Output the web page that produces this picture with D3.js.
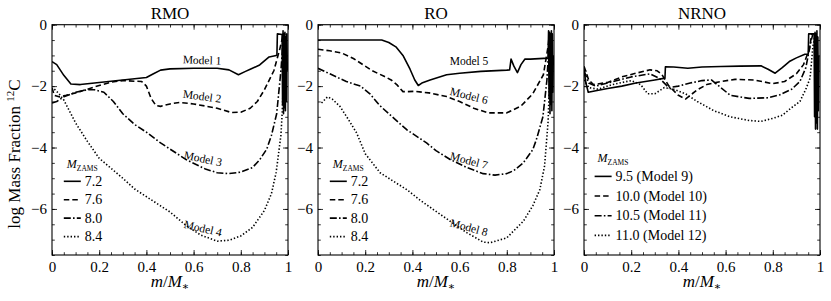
<!DOCTYPE html>
<html>
<head>
<meta charset="utf-8">
<script src="https://cdn.jsdelivr.net/npm/d3@7"></script>
<style>
  html, body { margin: 0; padding: 0; background: #fff; }
</style>
</head>
<body>
<svg id="chart" width="831" height="301" font-family="Liberation Serif, DejaVu Serif, serif"></svg>
<script>
// ---------------- DATA ----------------
const panelTitles = ["RMO", "RO", "NRNO"];
const xTickValues = [0, 0.2, 0.4, 0.6, 0.8, 1];
const yTickValues = [0, -2, -4, -6];
const xDomain = [0, 1];
const yDomain = [-7.5, 0];

const legendTitles = ["M", "M", "M"];
const legendLabelsRMO = ["7.2", "7.6", "8.0", "8.4"];
const legendLabelsRO = ["7.2", "7.6", "8.0", "8.4"];
const legendLabelsNRNO = ["9.5 (Model 9)", "10.0 (Model 10)", "10.5 (Model 11)", "11.0 (Model 12)"];
const modelLabelsRMO = ["Model 1", "Model 2", "Model 3", "Model 4"];
const modelLabelsRO = ["Model 5", "Model 6", "Model 7", "Model 8"];

// RMO panel
const model1 = [[0,-1.2],[0.02,-1.3],[0.05,-1.65],[0.08,-1.93],[0.12,-1.95],[0.2,-1.88],[0.3,-1.8],[0.35,-1.76],[0.4,-1.72],[0.43,-1.6],[0.46,-1.48],[0.5,-1.44],[0.6,-1.42],[0.7,-1.42],[0.75,-1.47],[0.79,-1.63],[0.82,-1.52],[0.84,-1.45],[0.88,-1.31],[0.92,-1.05],[0.95,-1.0],[0.953,-1.0],[0.955,-0.3],[0.975,-0.32],[0.977,-2.6],[0.979,-0.2],[0.981,-2.9],[0.983,-0.3],[0.985,-2.7],[0.987,-0.25],[0.989,-2.8],[0.991,-0.4],[0.993,-2.5],[0.995,-0.3],[0.997,-1.5]];
const model2 = [[0,-2.05],[0.01,-2.3],[0.03,-2.35],[0.06,-2.3],[0.1,-2.22],[0.15,-2.1],[0.2,-1.98],[0.25,-1.87],[0.3,-1.82],[0.35,-1.84],[0.38,-1.85],[0.4,-2.0],[0.42,-2.4],[0.44,-2.63],[0.46,-2.66],[0.5,-2.58],[0.54,-2.53],[0.6,-2.58],[0.7,-2.72],[0.76,-2.86],[0.8,-2.85],[0.84,-2.72],[0.87,-2.5],[0.9,-2.12],[0.94,-1.5],[0.966,-0.77],[0.98,-0.3]];
const model3 = [[0,-2.55],[0.02,-2.5],[0.05,-2.35],[0.1,-2.2],[0.15,-2.12],[0.18,-2.12],[0.22,-2.2],[0.26,-2.5],[0.3,-2.9],[0.35,-3.25],[0.4,-3.5],[0.46,-3.85],[0.5,-4.05],[0.57,-4.4],[0.65,-4.7],[0.7,-4.82],[0.75,-4.85],[0.8,-4.8],[0.85,-4.65],[0.88,-4.4],[0.91,-4.05],[0.93,-3.6],[0.952,-2.9],[0.97,-1.5],[0.98,-0.4]];
const model4 = [[0.01,-2.1],[0.03,-2.25],[0.05,-2.45],[0.08,-2.9],[0.1,-3.2],[0.15,-3.8],[0.2,-4.35],[0.3,-5.0],[0.35,-5.35],[0.4,-5.6],[0.46,-5.9],[0.5,-6.1],[0.57,-6.55],[0.63,-6.85],[0.7,-7.05],[0.75,-7.02],[0.8,-6.88],[0.85,-6.6],[0.9,-6.05],[0.93,-5.5],[0.95,-4.8],[0.97,-3.6],[0.975,-2.93],[0.985,-1.0],[0.99,-0.3]];

// RO panel
const model5 = [[0,-0.5],[0.1,-0.5],[0.2,-0.5],[0.27,-0.5],[0.3,-0.58],[0.33,-0.72],[0.36,-1.0],[0.39,-1.45],[0.41,-1.8],[0.425,-1.98],[0.44,-1.9],[0.475,-1.8],[0.545,-1.63],[0.6,-1.58],[0.69,-1.52],[0.8,-1.48],[0.812,-1.47],[0.818,-1.12],[0.83,-1.35],[0.845,-1.56],[0.86,-1.3],[0.877,-1.12],[0.9,-1.12],[0.975,-1.09],[0.977,-0.2],[0.979,-2.4],[0.981,-0.25],[0.983,-2.9],[0.985,-0.3],[0.987,-2.6],[0.989,-0.2],[0.991,-2.8],[0.993,-0.3],[0.995,-2.2],[0.997,-1.0]];
const model6 = [[0,-0.8],[0.05,-0.85],[0.1,-0.92],[0.15,-1.1],[0.19,-1.3],[0.23,-1.5],[0.28,-1.68],[0.31,-1.8],[0.335,-1.96],[0.36,-2.18],[0.38,-2.18],[0.41,-2.17],[0.47,-2.22],[0.545,-2.34],[0.6,-2.5],[0.66,-2.72],[0.72,-2.87],[0.8,-2.87],[0.86,-2.65],[0.91,-2.25],[0.955,-1.63],[0.976,-0.66],[0.98,-0.3]];
const model7 = [[0,-1.42],[0.05,-1.6],[0.12,-1.85],[0.18,-2.0],[0.22,-2.25],[0.26,-2.62],[0.3,-2.9],[0.376,-3.42],[0.46,-3.85],[0.5,-4.1],[0.56,-4.39],[0.63,-4.65],[0.7,-4.85],[0.75,-4.9],[0.8,-4.85],[0.83,-4.75],[0.87,-4.5],[0.91,-4.07],[0.925,-3.75],[0.953,-3.0],[0.97,-1.8],[0.98,-0.5]];
const model8 = [[0.015,-2.55],[0.04,-2.35],[0.06,-2.42],[0.093,-2.66],[0.13,-3.1],[0.164,-3.53],[0.2,-4.2],[0.263,-4.82],[0.32,-5.1],[0.376,-5.37],[0.43,-5.7],[0.489,-6.02],[0.56,-6.4],[0.63,-6.77],[0.7,-7.08],[0.73,-7.1],[0.8,-6.94],[0.87,-6.4],[0.91,-5.9],[0.94,-5.37],[0.96,-4.6],[0.975,-3.15],[0.985,-1.0],[0.99,-0.3]];

// NRNO panel
const model9 = [[0,-1.45],[0.008,-1.9],[0.018,-2.2],[0.05,-2.15],[0.1,-2.08],[0.16,-2.0],[0.22,-1.9],[0.3,-1.8],[0.343,-1.74],[0.345,-1.37],[0.38,-1.38],[0.44,-1.42],[0.5,-1.38],[0.58,-1.36],[0.66,-1.35],[0.75,-1.34],[0.78,-1.45],[0.81,-1.58],[0.84,-1.4],[0.87,-1.2],[0.9,-1.08],[0.936,-0.96],[0.95,-0.96],[0.952,-0.3],[0.975,-0.3],[0.977,-3.0],[0.979,-0.25],[0.981,-3.4],[0.983,-0.3],[0.985,-3.2],[0.987,-0.2],[0.989,-3.4],[0.991,-0.4],[0.993,-2.8],[0.995,-1.0]];
const model10 = [[0,-1.35],[0.02,-1.8],[0.04,-1.95],[0.1,-1.88],[0.16,-1.7],[0.22,-1.58],[0.28,-1.47],[0.31,-1.5],[0.33,-1.62],[0.36,-2.0],[0.4,-2.3],[0.43,-2.42],[0.45,-2.3],[0.48,-2.12],[0.52,-1.95],[0.58,-1.85],[0.64,-1.78],[0.72,-1.8],[0.8,-1.92],[0.85,-1.85],[0.9,-1.6],[0.93,-1.3],[0.955,-0.8],[0.965,-0.3]];
const model11 = [[0,-1.5],[0.02,-1.9],[0.05,-2.0],[0.1,-1.9],[0.2,-1.7],[0.28,-1.6],[0.32,-1.75],[0.36,-2.05],[0.4,-2.0],[0.45,-1.9],[0.5,-1.82],[0.54,-1.8],[0.58,-2.05],[0.62,-2.3],[0.7,-2.4],[0.78,-2.38],[0.83,-2.28],[0.88,-2.1],[0.915,-1.85],[0.94,-1.4],[0.96,-0.6],[0.97,-0.3]];
const model12 = [[0,-1.8],[0.02,-2.05],[0.06,-2.1],[0.12,-1.95],[0.2,-1.82],[0.24,-1.95],[0.27,-2.25],[0.3,-2.25],[0.34,-2.05],[0.38,-2.1],[0.43,-2.25],[0.48,-2.5],[0.55,-2.8],[0.62,-3.0],[0.7,-3.12],[0.75,-3.15],[0.8,-3.05],[0.84,-2.95],[0.88,-2.7],[0.915,-2.5],[0.94,-2.1],[0.958,-1.74],[0.97,-0.7],[0.98,-0.3]];

// -------------- CONFIG --------------
const FONT = "Liberation Serif, DejaVu Serif, serif";
const styles = [
  { dash: null },
  { dash: "5.5,3" },
  { dash: "7,2.2,1.6,2.2" },
  { dash: "1.4,2" }
];
const panelLeft = [52, 318, 584];
const panelWidth = 236;
const plotTop = 24.7, plotBottom = 255;

const panels = [
  { title: panelTitles[0], series: [model1, model2, model3, model4], legend: legendLabelsRMO,
    labels: modelLabelsRMO, labelPos: [[0.636,-1.15,2],[0.636,-2.33,8],[0.64,-4.36,12],[0.64,-6.63,13]],
    legendAt: [0.05, -4.5], legendStep: 0.6 },
  { title: panelTitles[1], series: [model5, model6, model7, model8], legend: legendLabelsRO,
    labels: modelLabelsRO, labelPos: [[0.64,-1.18,0],[0.64,-2.31,14],[0.64,-4.42,15],[0.64,-6.6,15]],
    legendAt: [0.05, -4.5], legendStep: 0.6 },
  { title: panelTitles[2], series: [model9, model10, model11, model12], legend: legendLabelsNRNO,
    labels: [], labelPos: [],
    legendAt: [0.045, -4.3], legendStep: 0.64 }
];

const svg = d3.select("#chart");
svg.append("rect").attr("width", 831).attr("height", 301).attr("fill", "#fff");

const y = d3.scaleLinear().domain(yDomain).range([plotBottom, plotTop]);
const fmt = d3.format("~g");
const xMinor = d3.range(0, 1.0001, 0.05);
const yMinor = d3.range(-7.5, 0.0001, 0.5);

function txt(sel) { return sel.attr("font-family", FONT).attr("fill", "#000"); }

panels.forEach((p, i) => {
  const x = d3.scaleLinear().domain(xDomain).range([panelLeft[i], panelLeft[i] + panelWidth]);
  const g = svg.append("g");

  const clipId = "clip" + i;
  svg.append("clipPath").attr("id", clipId).append("rect")
    .attr("x", x(0)).attr("y", plotTop).attr("width", panelWidth).attr("height", plotBottom - plotTop);

  g.append("g").attr("transform", `translate(0,${plotBottom})`)
    .call(d3.axisBottom(x).tickValues(xTickValues).tickSize(-5).tickPadding(6).tickFormat(fmt));
  g.append("g").attr("transform", `translate(0,${plotBottom})`)
    .call(d3.axisBottom(x).tickValues(xMinor).tickSize(-2.8).tickFormat(""));
  g.append("g").attr("transform", `translate(0,${plotTop})`)
    .call(d3.axisTop(x).tickValues(xTickValues).tickSize(-5).tickFormat(""));
  g.append("g").attr("transform", `translate(0,${plotTop})`)
    .call(d3.axisTop(x).tickValues(xMinor).tickSize(-2.8).tickFormat(""));
  g.append("g").attr("transform", `translate(${x(0)},0)`)
    .call(d3.axisLeft(y).tickValues(yTickValues).tickSize(-5).tickPadding(5).tickFormat(fmt));
  g.append("g").attr("transform", `translate(${x(0)},0)`)
    .call(d3.axisLeft(y).tickValues(yMinor).tickSize(-2.8).tickFormat(""));
  g.append("g").attr("transform", `translate(${x(1)},0)`)
    .call(d3.axisRight(y).tickValues(yTickValues).tickSize(-5).tickFormat(""));
  g.append("g").attr("transform", `translate(${x(1)},0)`)
    .call(d3.axisRight(y).tickValues(yMinor).tickSize(-2.8).tickFormat(""));

  g.selectAll(".domain").remove();
  g.selectAll("g").attr("font-family", FONT).attr("font-size", 15);
  g.selectAll(".tick line").attr("stroke", "#000").attr("stroke-width", 0.8);
  g.selectAll(".tick text").attr("fill", "#000");

  g.append("rect").attr("x", x(0)).attr("y", plotTop).attr("width", panelWidth).attr("height", plotBottom - plotTop)
    .attr("fill", "none").attr("stroke", "#000").attr("stroke-width", 1.1);

  const line = d3.line().x(d => x(d[0])).y(d => y(d[1]));
  const lg = g.append("g").attr("clip-path", `url(#${clipId})`);
  p.series.forEach((s, k) => {
    lg.append("path").datum(s).attr("d", line)
      .attr("fill", "none").attr("stroke", "#000").attr("stroke-width", 1.6)
      .attr("stroke-linejoin", "round")
      .attr("stroke-dasharray", styles[k].dash);
  });

  p.labels.forEach((t, k) => {
    const [lx, ly, rot] = p.labelPos[k];
    txt(g.append("text")).attr("transform", `translate(${x(lx)},${y(ly)}) rotate(${rot})`)
      .attr("text-anchor", "middle").attr("dominant-baseline", "central")
      .attr("font-size", 11.5).text(t);
  });

  txt(g.append("text")).attr("x", x(0.5)).attr("y", 19).attr("text-anchor", "middle")
    .attr("font-size", 17).text(p.title);

  const xl = txt(g.append("text")).attr("x", x(0.5)).attr("y", 287).attr("text-anchor", "middle").attr("font-size", 17);
  xl.append("tspan").attr("font-style", "italic").text("m");
  xl.append("tspan").text("/");
  xl.append("tspan").attr("font-style", "italic").text("M");
  xl.append("tspan").attr("dy", 3).attr("font-size", 11).text("∗");

  const [lgx, lgy] = p.legendAt;
  const ttl = txt(g.append("text")).attr("x", x(lgx) + 3).attr("y", y(lgy) + 5.5).attr("font-size", 12);
  ttl.append("tspan").attr("font-style", "italic").text(legendTitles[i]);
  ttl.append("tspan").attr("dy", 2.5).attr("font-size", 7.5).text("ZAMS");
  p.legend.forEach((t, k) => {
    const ly = y(lgy - p.legendStep * (k + 1));
    const lx0 = x(lgx);
    g.append("line").attr("x1", lx0).attr("x2", lx0 + 17).attr("y1", ly).attr("y2", ly)
      .attr("stroke", "#000").attr("stroke-width", 1.6).attr("stroke-dasharray", styles[k].dash);
    txt(g.append("text")).attr("x", lx0 + 21).attr("y", ly).attr("dominant-baseline", "central")
      .attr("font-size", 14).text(t);
  });
});

const yl = txt(svg.append("text")).attr("transform", "translate(20,154) rotate(-90)")
  .attr("text-anchor", "middle").attr("font-size", 17);
yl.append("tspan").text("log Mass Fraction ");
yl.append("tspan").attr("dy", -6).attr("font-size", 11).text("12");
yl.append("tspan").attr("dy", 6).text("C");
</script>
</body>
</html>
